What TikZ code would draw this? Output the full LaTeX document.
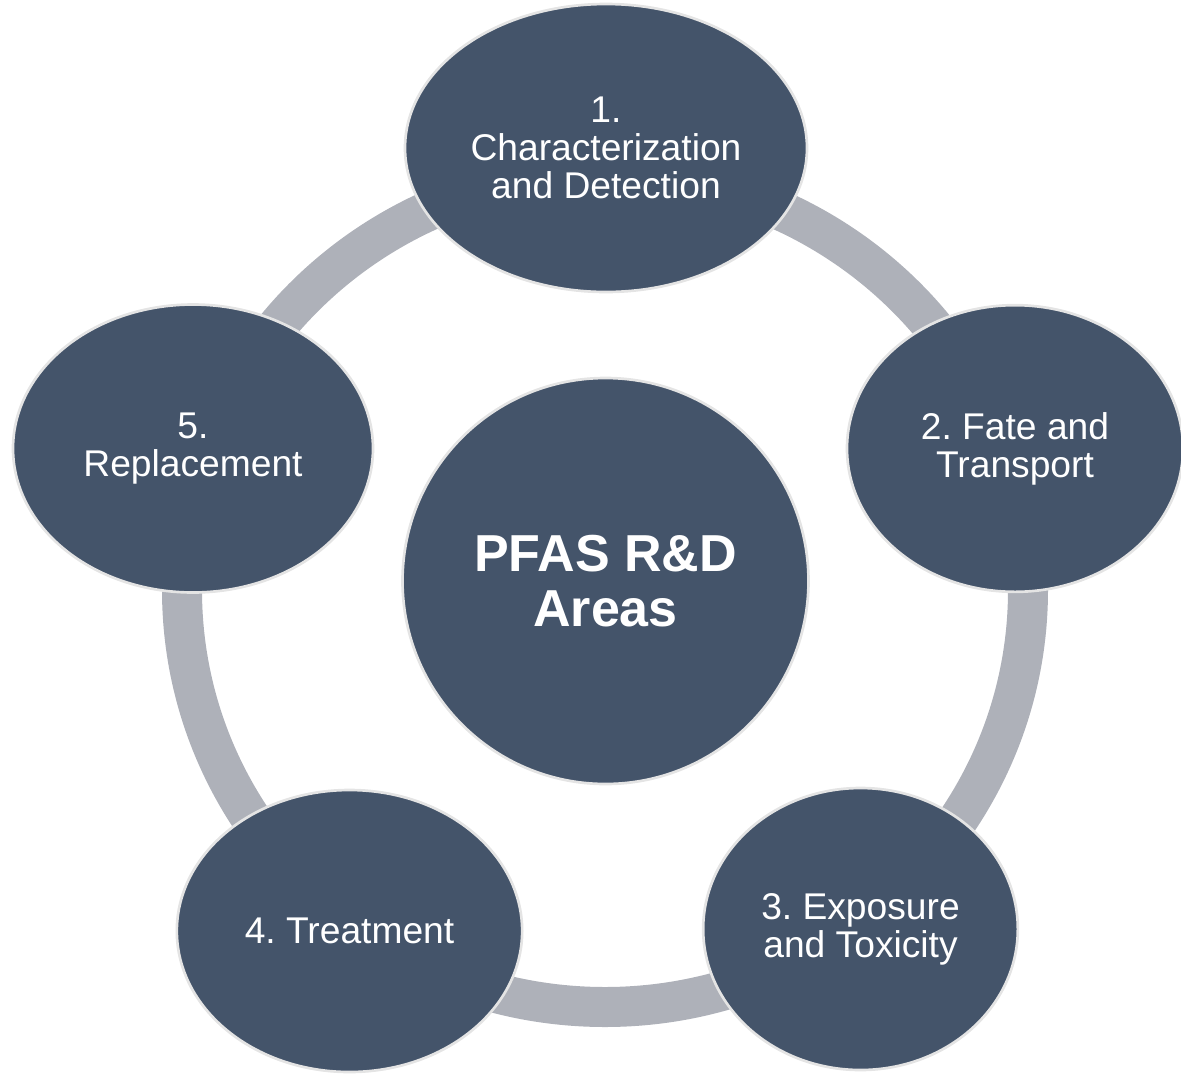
\documentclass[tikz,border=0pt]{standalone}
\usepackage{fontspec}
\setmainfont{Liberation Sans}
\usetikzlibrary{shapes.geometric}
\definecolor{slate}{RGB}{68,84,106}
\definecolor{ringgrey}{RGB}{174,177,185}
\definecolor{rimgrey}{RGB}{228,228,228}
\frenchspacing
\tikzset{
  area/.style={ellipse, draw=rimgrey, line width=2pt, fill=slate, text=white,
    inner sep=0pt, align=center, font=\fontsize{27.9}{28.6}\selectfont},
  hub/.style={circle, draw=rimgrey, line width=2pt, fill=slate, text=white,
    inner sep=0pt, align=center, font=\fontsize{39}{41}\selectfont\bfseries}
}
\begin{document}
\begin{tikzpicture}[x=0.75pt,y=0.75pt,yscale=-1,xscale=1]
\useasboundingbox (0,0) rectangle (1181,1075);

%Ring behind the areas
\coordinate (ringc) at (605,590);
\draw [color=ringgrey, line width=30pt] (ringc) ellipse [x radius=423, y radius=417];

%Centre
\node (hub) at (605.5,581) [hub, minimum size=304.5pt] {PFAS R\&D\\Areas};

%Areas
\node (detect) at (606,148) [area, minimum width=301.5pt, minimum height=216pt] {1.\\Characterization\\and Detection};
\node (fate) at (1015,448.5) [area, minimum width=252pt, minimum height=215pt] {2. Fate and\\Transport};
\node (expo) at (860.5,929) [area, minimum width=236pt, minimum height=211.5pt] {3. Exposure\\and Toxicity};
\node (treat) at (349.5,931) [area, minimum width=259pt, minimum height=211.5pt] {4. Treatment};
\node (repl) at (193,448.5) [area, minimum width=270pt, minimum height=216pt] {5.\\Replacement};

\end{tikzpicture}
\end{document}
